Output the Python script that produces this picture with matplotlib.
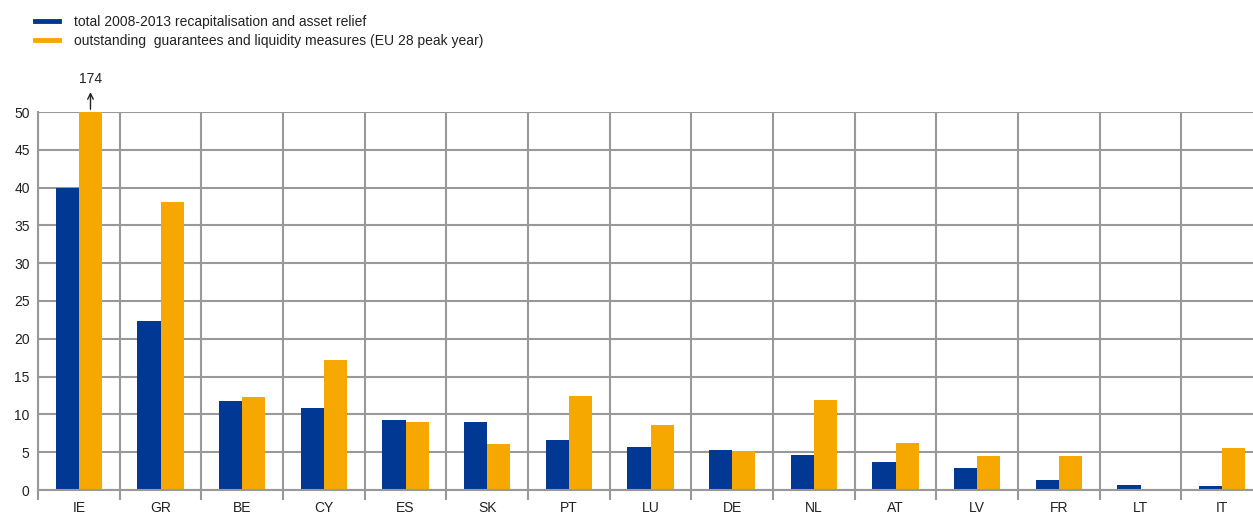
import matplotlib
matplotlib.use("Agg")
import matplotlib.pyplot as plt
import numpy as np

countries = ["IE", "GR", "BE", "CY", "ES", "SK", "PT", "LU", "DE", "NL", "AT", "LV", "FR", "LT", "IT"]
recap = [39.9, 22.4, 11.8, 10.9, 9.25, 8.95, 6.6, 5.7, 5.3, 4.6, 3.7, 2.9, 1.3, 0.65, 0.5]
guarantees = [174, 38.1, 12.3, 17.2, 9.0, 6.1, 12.4, 8.6, 5.15, 11.9, 6.2, 4.5, 4.5, 0.0, 5.6]
yticks = [0, 5, 10, 15, 20, 25, 30, 35, 40, 45, 50]
label_recap = "total 2008-2013 recapitalisation and asset relief"
label_guar = "outstanding  guarantees and liquidity measures (EU 28 peak year)"

BLUE = "#003894"
ORANGE = "#F6A800"
GRID = "#999999"
FS = 10

plt.rcParams['font.family'] = ['Liberation Sans', 'DejaVu Sans']

W, H = 1253, 514
fig = plt.figure(figsize=(W / 100, H / 100), dpi=100)
left, right, top, bottom = 38, 1263, 112, 490
ax = fig.add_axes([left / W, 1 - bottom / H, (right - left) / W, (bottom - top) / H])

x = np.arange(len(countries))
bw = 0.285
ax.bar(x - bw / 2, recap, bw, color=BLUE, zorder=3, label=label_recap)
ax.bar(x + bw / 2, guarantees, bw, color=ORANGE, zorder=3, label=label_guar)

ax.set_xlim(-0.5, len(countries) - 0.5)
ax.set_ylim(0, 50)
ax.set_yticks(yticks)
ax.set_xticks(x)
ax.set_xticklabels(countries)
ax.set_xticks(np.arange(len(countries) + 1) - 0.5, minor=True)

ax.tick_params(axis='x', which='major', length=0, pad=8, labelsize=FS, colors='#222222')
ax.tick_params(axis='x', which='minor', length=7, width=1.5, color=GRID)
ax.tick_params(axis='y', length=0, pad=6, labelsize=FS, colors='#222222')

ax.grid(True, axis='y', color=GRID, lw=1.5, zorder=0)
ax.grid(True, axis='x', which='minor', color=GRID, lw=1.5, zorder=0)
for s in ['top', 'right']:
    ax.spines[s].set_visible(False)
for s in ['left', 'bottom']:
    ax.spines[s].set_color(GRID)
    ax.spines[s].set_linewidth(1.5)
    ax.spines[s].set_zorder(4)

# off-scale annotation for IE
ax.annotate("", xy=(x[0] + bw / 2, 53.0), xytext=(x[0] + bw / 2, 50),
            arrowprops=dict(arrowstyle='->', color='#222222', lw=1), annotation_clip=False)
ax.text(x[0] + bw / 2, 53.4, f"{guarantees[0]:g}", ha='center', va='bottom', fontsize=FS,
        color='#222222', clip_on=False)

leg = fig.legend(handles=[plt.Line2D([], [], color=BLUE, lw=3.5), plt.Line2D([], [], color=ORANGE, lw=3.5)],
                 labels=[label_recap, label_guar], loc='upper left',
                 bbox_to_anchor=(29 / W, 1 - 9 / H), frameon=False, fontsize=FS,
                 handlelength=1.75, handletextpad=1.1, labelspacing=0.4, borderaxespad=0)
for t in leg.get_texts():
    t.set_color('#222222')

fig.savefig("out.png", dpi=100)
